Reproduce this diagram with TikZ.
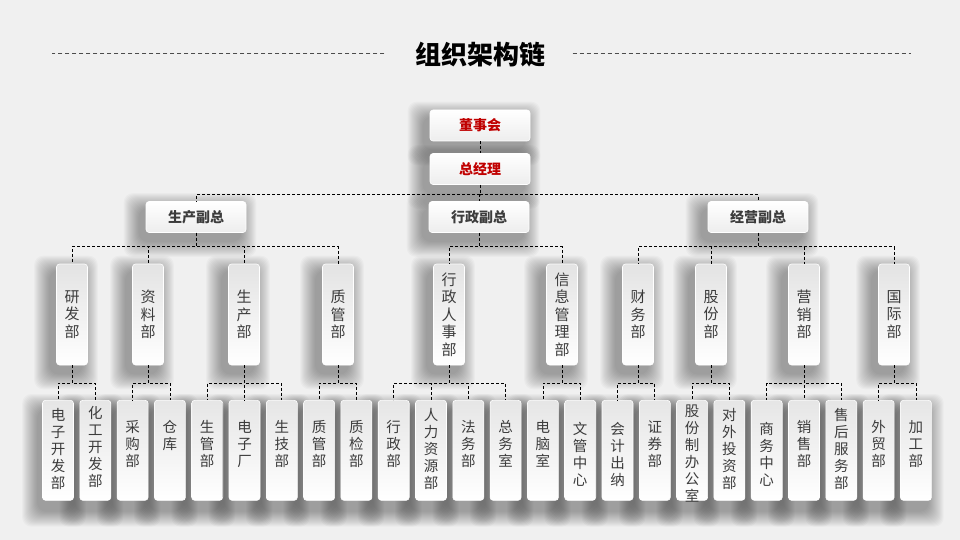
\documentclass[tikz,border=0pt]{standalone}
\usepackage{fontspec}
\usepackage{tikz}
\usetikzlibrary{calc}
\newfontfamily\cjk{Noto Sans CJK SC}
\definecolor{bgcol}{RGB}{240,240,240}
\definecolor{redtxt}{RGB}{192,0,0}
\definecolor{darktxt}{RGB}{60,60,60}
\pgfdeclarelayer{shade}
\pgfsetlayers{shade,main}

\begin{document}
\begin{tikzpicture}[x=1pt, y=-1pt, font=\cjk,
    box/.style={rounded corners=3pt, draw=white, line width=0.6pt, inner sep=0pt},
    head/.style={box, top color=white, bottom color=gray!14, minimum width=100pt, minimum height=31pt,
        text=redtxt, font=\cjk\bfseries\fontsize{14}{16}\selectfont},
    vice/.style={head, text=darktxt},
    dept/.style={box, top color=gray!22, bottom color=white, minimum width=31pt, minimum height=101pt,
        align=center, text=darktxt, font=\cjk\fontsize{15}{17.5}\selectfont},
    unit/.style={box, top color=gray!20, bottom color=white, minimum width=31pt, minimum height=100pt, anchor=north},
    unittext/.style={anchor=north, align=center, inner sep=0pt, text=darktxt, font=\cjk\fontsize{14.5}{17}\selectfont},
    haze/.style={fill=black, opacity=0.022, rounded corners=9pt},
    link/.style={draw=black, line width=0.7pt, dash pattern=on 3pt off 2pt},
    rule/.style={draw=gray!60!black, line width=0.6pt, dash pattern=on 4pt off 3pt}]

\useasboundingbox (0,0) rectangle (960,540);

% title
\node[font=\cjk\bfseries\fontsize{26}{30}\selectfont] (title) at (480,55) {组织架构链};
\draw[rule] ([xshift=-27pt,yshift=2pt]title.west) -- ++(-332,0);
\draw[rule] ([xshift=24pt,yshift=2pt]title.east) -- ++(338,0);

% top
\node[head] (top1) at (480,125.5) {董事会};
\node[head] (top2) at (480,169) {总经理};

% vice presidents
\node[vice] (g1) at (196,217) {生产副总};
\node[vice] (g2) at (479,217) {行政副总};
\node[vice] (g3) at (758,217) {经营副总};

% departments
\foreach \x/\txt [count=\i] in {72/研\\发\\部, 148/资\\料\\部, 244/生\\产\\部, 338/质\\管\\部,
    449/行\\政\\人\\事\\部, 562/信\\息\\管\\理\\部,
    638/财\\务\\部, 711/股\\份\\部, 804/营\\销\\部, 894/国\\际\\部}
  \node[dept] (m\i) at (\x,314.5) {\txt};

% units
\foreach \sh/\txt [count=\i] in {8/电\\子\\开\\发\\部, 6/化\\工\\开\\发\\部, 20/采\\购\\部, 20/仓\\库,
    20/生\\管\\部, 20/电\\子\\厂, 20/生\\技\\部, 20/质\\管\\部, 20/质\\检\\部,
    20/行\\政\\部, 8/人\\力\\资\\源\\部, 20/法\\务\\部, 20/总\\务\\室,
    20/电\\脑\\室, 22/文\\管\\中\\心, 22/会\\计\\出\\纳, 20/证\\券\\部,
    5/股\\份\\制\\办\\公\\室, 8/对\\外\\投\\资\\部,
    22/商\\务\\中\\心, 20/销\\售\\部, 8/售\\后\\服\\务\\部, 20/外\\贸\\部, 20/加\\工\\部}
  \node[unit, label={[unittext, yshift={-\sh*1pt}]north:{\txt}}] (b\i) at ({58+37.3*(\i-1)},400) {};

% connectors
\draw[link] (top1.south) -- (top2.north);
\foreach \c in {1,2,3}
  \draw[link] (top2.south) -- ++(0,10) -| (g\c.north);
\foreach \p/\c in {1/1,1/2,1/3,1/4,2/5,2/6,3/7,3/8,3/9,3/10}
  \draw[link] (g\p.south) -- ++(0,14) -| (m\c.north);
\foreach \p/\c in {1/1,1/2,2/3,2/4,3/5,3/6,3/7,4/8,4/9,5/10,5/11,5/12,5/13,
    6/14,6/15,7/16,7/17,8/18,8/19,9/20,9/21,9/22,10/23,10/24}
  \draw[link] (m\p.south) -- ++(0,18) -| (b\c.north);

% soft shadows behind the boxes
\begin{pgfonlayer}{shade}
\fill[bgcol] (0,0) rectangle (960,540);
\foreach \n in {top1,top2,g1,g2,g3,m1,m2,m3,m4,m5,m6,m7,m8,m9,m10}
  \foreach \k in {1,...,16}
    \fill[haze] ([xshift={-6pt-\k*1pt},yshift={\k*1pt-8pt}]\n.north west)
      rectangle ([xshift={\k*1pt-6pt},yshift={-8pt-\k*1pt}]\n.south east);
\foreach \i in {1,...,24}
  \foreach \k in {1,...,16}
    \fill[haze] ([xshift={-4pt-\k*1pt},yshift={\k*1pt-10pt}]b\i.north west)
      rectangle ([xshift={\k*1pt-4pt},yshift={-10pt-\k*1pt}]b\i.south east);
\end{pgfonlayer}
\end{tikzpicture}
\end{document}
